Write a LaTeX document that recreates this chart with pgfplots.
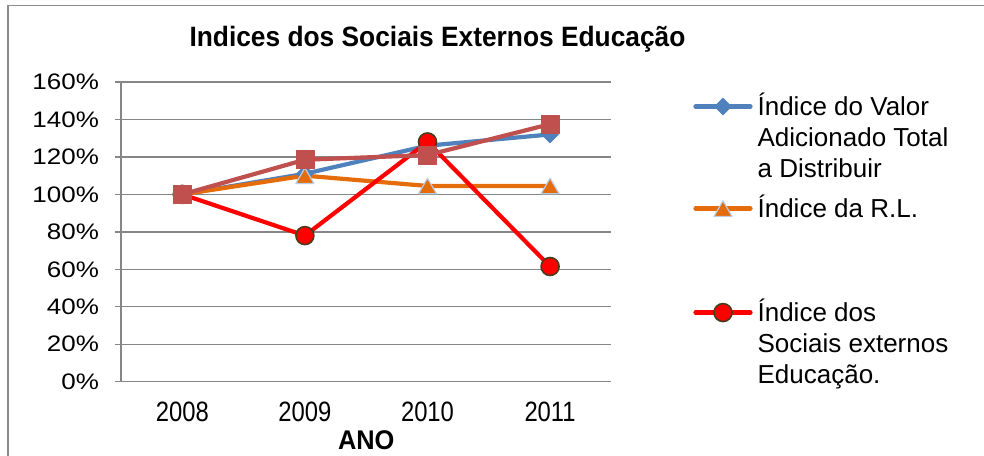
\documentclass[border=0pt]{standalone}
\usepackage{fontspec}
\setmainfont{Liberation Sans}
\newfontfamily\yfont[FakeStretch=1.16]{Liberation Sans}
\newfontfamily\xfont[FakeStretch=0.85]{Liberation Sans}
\newfontfamily\tfont[FakeStretch=0.94]{Liberation Sans}
\usepackage{pgfplots}
\pgfplotsset{compat=1.18}
\definecolor{gridgray}{HTML}{868686}
\definecolor{frame}{HTML}{8C8C8C}
\definecolor{sblue}{HTML}{4F81BD}
\definecolor{sorange}{HTML}{E46C0A}
\definecolor{tedge}{HTML}{B9CDE5}
\definecolor{sred}{HTML}{FF0000}
\definecolor{cedge}{HTML}{4A3C1E}
\definecolor{sbrown}{HTML}{C0504D}
\newcommand\lf{\fontsize{13}{15.4}\selectfont}
\newcommand\yl[1]{{\yfont\fontsize{11.2}{13}\selectfont #1\%}}
\begin{document}
\begin{tikzpicture}
\useasboundingbox (0,0) rectangle (492pt,227.5pt);
\draw[frame, line width=0.85pt] (4pt,-10pt) -- (4pt,224.75pt) -- (510pt,224.75pt);
\begin{axis}[
  at={(60.5pt,36.65pt)}, anchor=south west,
  scale only axis, width=245.2pt, height=149.85pt,
  xmin=0, xmax=4, ymin=0, ymax=160,
  axis x line=bottom, axis y line=left,
  axis line style={-, draw=gridgray, line width=0.7pt},
  clip=false,
  /pgf/number format/assume math mode=true,
  ytick={0,20,...,160},
  yticklabels={\yl{0},\yl{20},\yl{40},\yl{60},\yl{80},\yl{100},\yl{120},\yl{140},\yl{160}},
  xtick={0.5,1.5,2.5,3.5},
  xticklabels={2008,2009,2010,2011},
  major x tick style={draw=none},
  extra x ticks={0,1,2,3,4},
  extra x tick labels={},
  extra x tick style={major tick length=4pt, grid=none, tick style={draw=gridgray, line width=0.7pt}},
  tick align=outside,
  major tick length=3pt,
  y tick style={draw=gridgray, line width=0.7pt},
  ymajorgrids,
  grid style={draw=gridgray, line width=0.7pt},
  yticklabel style={inner sep=0pt, anchor=east, xshift=-7.85pt, font=\yfont\fontsize{11.2}{13}\selectfont},
  xticklabel style={inner sep=0pt, anchor=north, yshift=-6.8pt, font=\xfont\fontsize{14}{16}\selectfont},
  xlabel={ANO},
  xlabel style={at={(axis description cs:0.5,0)}, anchor=north, inner sep=0pt, yshift=-24.15pt, font=\tfont\bfseries\fontsize{13.5}{15}\selectfont},
  title={Indices dos Sociais Externos Educação},
  title style={at={(axis description cs:0.6454,1.0777)}, anchor=base, inner sep=0pt, font=\tfont\bfseries\fontsize{14}{16}\selectfont},
  legend image code/.code={
    \draw[#1, mark=none, yshift=4.7pt, line cap=round] (0pt,0pt) -- (27.5pt,0pt);
    \draw[#1, only marks, yshift=4.7pt] plot coordinates {(13.75pt,0pt)};
  },
  legend style={at={(axis description cs:1.1672,0.9587)}, anchor=north west,
    draw=none, fill=none, inner sep=0pt, outer sep=0pt,
    row sep=0pt, column sep=2.5pt, font=\lf,
    nodes={inner sep=0pt, anchor=base west, text height=10.8pt, text depth=4.6pt},
    cells={anchor=base west}},
]
\addplot[color=sblue, line width=2.1pt, line join=round, mark=square*, mark size=2.9pt, mark options={rotate=45, fill=sblue, draw=sblue, line width=0.5pt}]
  coordinates {(0.5,100) (1.5,111) (2.5,126) (3.5,132)};
\addlegendentry{Índice do Valor}
\addlegendimage{empty legend}
\addlegendentry{Adicionado Total}
\addlegendimage{empty legend}
\addlegendentry[text depth=9.4pt]{a Distribuir}
\addplot[color=sorange, line width=2.1pt, line join=round, mark=triangle*, mark size=5.2pt, mark options={fill=sorange, draw=tedge, line width=0.6pt, yshift=-1.3pt}]
  coordinates {(0.5,100) (1.5,110) (2.5,104.5) (3.5,104.5)};
\addlegendentry{Índice da R.L.}
\addlegendimage{empty legend}
\addlegendentry{}
\addlegendimage{empty legend}
\addlegendentry[text depth=10.4pt]{}
\addplot[color=sred, line width=2.1pt, line join=round, mark=*, mark size=4.5pt, mark options={fill=sred, draw=cedge, line width=0.8pt}]
  coordinates {(0.5,100) (1.5,78) (2.5,128) (3.5,61.5)};
\addlegendentry{Índice dos}
\addlegendimage{empty legend}
\addlegendentry{Sociais externos}
\addlegendimage{empty legend}
\addlegendentry{Educação.}
\addplot[forget plot, color=sbrown, line width=2.1pt, line join=round, mark=square*, mark size=4.5pt, mark options={fill=sbrown, draw=sbrown, line width=0.3pt}]
  coordinates {(0.5,100) (1.5,118.5) (2.5,121) (3.5,137.5)};
\end{axis}
\end{tikzpicture}
\end{document}
